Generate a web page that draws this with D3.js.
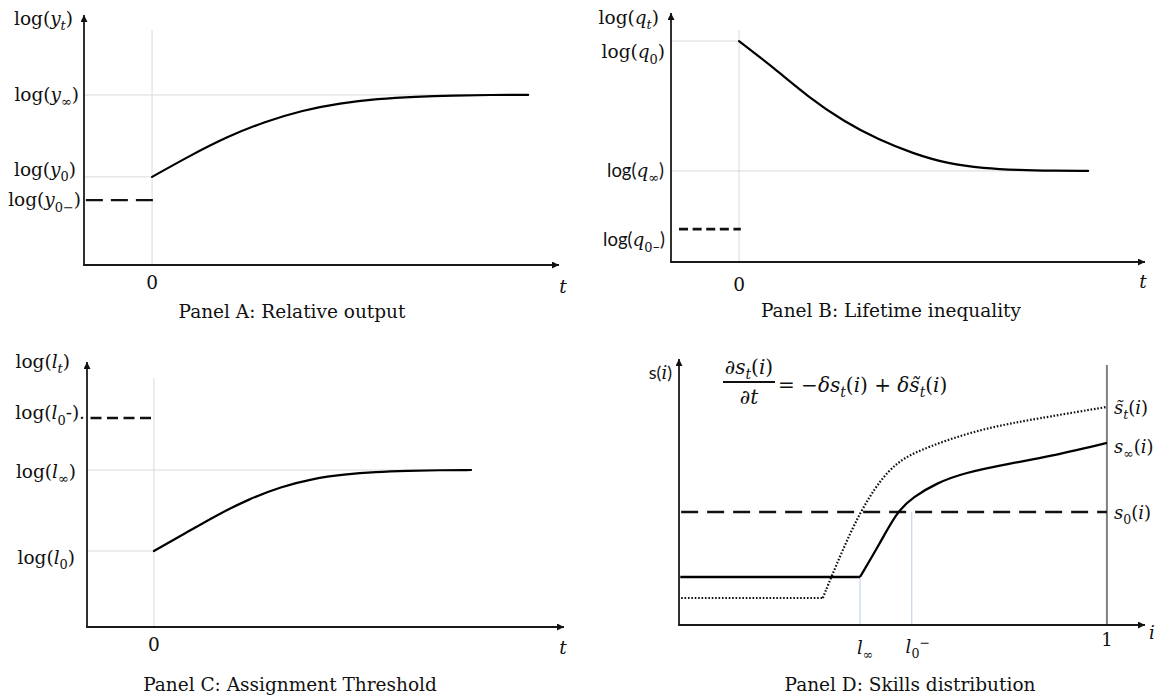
<!DOCTYPE html>
<html>
<head>
<meta charset="utf-8">
<script src="https://cdn.jsdelivr.net/npm/d3@7"></script>
<style>
  html, body { margin: 0; padding: 0; background: #fff; }
  svg { display: block; }
</style>
</head>
<body>
<script>
// ---------- data ----------
// Panel A: relative output after the shock at t = 0
const tA = [0, 1, 2, 3, 4, 5, 6, 7, 8, 9, 10];
const logY = [0.518, 0.642, 0.755, 0.843, 0.91, 0.952, 0.977, 0.99, 0.997, 1.0, 1.0];
const yInf = 1.0, y0 = 0.518, y0Minus = 0.382;

// Panel B: lifetime inequality
const tB = [0, 1, 2, 3, 4, 5, 6, 7, 8, 9, 10];
const logQ = [1.0, 0.878, 0.745, 0.636, 0.553, 0.49, 0.444, 0.424, 0.416, 0.413, 0.412];
const q0 = 1.0, qInf = 0.412, q0Minus = 0.149;

// Panel C: assignment threshold
const tC = [0, 1, 2, 3, 4, 5, 6, 7, 8, 9, 10];
const logL = [0.484, 0.598, 0.715, 0.815, 0.893, 0.945, 0.972, 0.988, 0.995, 0.999, 1.0];
const l0Minus = 1.331, lInf = 1.0, l0 = 0.484;

// Panel D: skills distribution over i in [0, 1]
const s0Level = 1.0;
const sInfFlat = 0.425, sInfKink = 0.423;
const iSInf = [0.423, 0.470, 0.509, 0.547, 0.603, 0.664, 0.780, 0.860, 1.0];
const sInf  = [0.425, 0.726, 1.0, 1.133, 1.257, 1.345, 1.434, 1.487, 1.611];
const sTilFlat = 0.239, sTilKink = 0.336;
const iSTil = [0.336, 0.379, 0.423, 0.470, 0.509, 0.547, 0.626, 0.703, 0.780, 0.860, 1.0];
const sTil  = [0.239, 0.637, 1.0, 1.283, 1.434, 1.522, 1.637, 1.726, 1.788, 1.841, 1.93];
const iLInf = 0.423, iL0Minus = 0.544;

const titles = ["Panel A: Relative output", "Panel B: Lifetime inequality",
                "Panel C: Assignment Threshold", "Panel D: Skills distribution"];

// ---------- setup ----------
const W = 1158, H = 696;
const SERIF = "'DejaVu Serif', 'Liberation Serif', serif";
const SANS = "Lato, 'Open Sans', 'DejaVu Sans', sans-serif";
const INK = "#111";
const GRID = "#dadada";

const svg = d3.select("body").append("svg")
  .attr("width", W).attr("height", H)
  .style("background", "#fff");

svg.append("defs").append("marker")
  .attr("id", "arrow")
  .attr("viewBox", "0 0 10 10")
  .attr("refX", 10).attr("refY", 5)
  .attr("markerWidth", 8).attr("markerHeight", 7)
  .attr("markerUnits", "userSpaceOnUse")
  .attr("orient", "auto")
  .append("path").attr("d", "M0,0 L10,5 L0,10 Z").attr("fill", "#111");

// rich label: parts = [[text, kind]], kind letters: i italic, b subscript, p superscript, s sans
function label(g, x, y, parts, o = {}) {
  const fs = o.size || 18.5;
  const t = g.append("text")
    .attr("x", x).attr("y", y + fs * 0.34)
    .attr("text-anchor", o.anchor || "end")
    .attr("font-family", o.font || SERIF)
    .attr("font-size", fs)
    .attr("fill", INK);
  let shift = 0;
  for (const [s, k = ""] of parts) {
    const sub = k.includes("b"), sup = k.includes("p");
    const target = sub ? fs * 0.28 : sup ? -fs * 0.36 : 0;
    const sp = t.append("tspan").text(s).attr("dy", target - shift);
    shift = target;
    if (sub || sup) sp.attr("font-size", fs * 0.7);
    if (k.includes("i")) sp.attr("font-style", "italic");
    if (k.includes("s")) sp.attr("font-family", SANS);
  }
  return t;
}

function axes(g, x, y) {
  const [x0, x1] = x.range(), [yb, yt] = y.range();
  g.append("line").attr("x1", x0).attr("y1", yb).attr("x2", x0).attr("y2", yt)
    .attr("stroke", "#1a1a1a").attr("stroke-width", 1.8).attr("marker-end", "url(#arrow)");
  g.append("line").attr("x1", x0 - 0.9).attr("y1", yb).attr("x2", x1).attr("y2", yb)
    .attr("stroke", "#1a1a1a").attr("stroke-width", 1.8).attr("marker-end", "url(#arrow)");
}

function hline(g, x, y, a, b, v, opt) {
  return g.append("line")
    .attr("x1", x(a)).attr("x2", x(b)).attr("y1", y(v)).attr("y2", y(v))
    .attr("stroke", opt.stroke).attr("stroke-width", opt.width)
    .attr("stroke-dasharray", opt.dash || null);
}
function vline(g, x, y, v, a, b, opt) {
  return g.append("line")
    .attr("x1", x(v)).attr("x2", x(v)).attr("y1", y(a)).attr("y2", y(b))
    .attr("stroke", opt.stroke).attr("stroke-width", opt.width)
    .attr("stroke-dasharray", opt.dash || null);
}
function title(text, cx, cy) {
  svg.append("text").attr("x", cx).attr("y", cy + 18.5 * 0.34)
    .attr("text-anchor", "middle").attr("font-family", SERIF)
    .attr("font-size", 18.5).attr("fill", INK).text(text);
}
const gridOpt = { stroke: GRID, width: 1 };
// smooth adjustment path of a log variable over time
const pathCurve = (g, pts, x, y) => g.append("path")
  .attr("d", d3.line().x(d => x(d[0])).y(d => y(d[1])).curve(d3.curveBasis)(pts))
  .attr("fill", "none").attr("stroke", "#000").attr("stroke-width", 2.2)
  .attr("stroke-linecap", "round");

// ---------- Panel A ----------
{
  const g = svg.append("g");
  const x = d3.scaleLinear().domain([-1.81, 10.82]).range([84, 559]);
  const y = d3.scaleLinear().domain([0, 1.47]).range([265, 15]);
  vline(g, x, y, 0, 0, 1.382, gridOpt);
  hline(g, x, y, -1.81, 10, yInf, gridOpt);
  hline(g, x, y, -1.81, 0, y0, gridOpt);
  axes(g, x, y);
  hline(g, x, y, -1.76, 0.05, y0Minus, { stroke: "#111", width: 2.3, dash: "17,8" });
  pathCurve(g, tA.map((t, i) => [t, logY[i]]), x, y);

  label(g, 73, 19, [["log("], ["y", "i"], ["t", "ib"], [")"]]);
  label(g, 79, y(yInf), [["log("], ["y", "i"], ["∞", "b"], [")"]]);
  label(g, 76, y(y0) - 7, [["log("], ["y", "i"], ["0", "b"], [")"]]);
  label(g, 81, y(y0Minus), [["log("], ["y", "i"], ["0−", "b"], [")"]]);
  label(g, x(0), 283, [["0"]], { anchor: "middle" });
  label(g, 563, 287, [["t", "i"]], { anchor: "middle" });
  title(titles[0], 292, 312);
}

// ---------- Panel B ----------
{
  const g = svg.append("g");
  const x = d3.scaleLinear().domain([-1.95, 11.63]).range([671, 1145]);
  const y = d3.scaleLinear().domain([0, 1.127]).range([262, 13]);
  vline(g, x, y, 0, 0, 1.05, gridOpt);
  hline(g, x, y, -1.95, 0, q0, gridOpt);
  hline(g, x, y, -1.95, 10, qInf, gridOpt);
  axes(g, x, y);
  hline(g, x, y, -1.72, 0.05, q0Minus, { stroke: "#111", width: 2.6, dash: "9,4.6" });
  pathCurve(g, tB.map((t, i) => [t, logQ[i]]), x, y);

  label(g, 659, 18, [["log("], ["q", "i"], ["t", "ib"], [")"]]);
  label(g, 665, y(q0) + 11, [["log("], ["q", "i"], ["0", "b"], [")"]]);
  label(g, 664, y(qInf), [["log(", "s"], ["q", "i"], ["∞", "b"], [")", "s"]]);
  label(g, 665, y(q0Minus) + 11, [["log(", "s"], ["q", "i"], ["0", "b"], ["−", "bs"], [")", "s"]]);
  label(g, x(0), 285, [["0"]], { anchor: "middle" });
  label(g, 1143, 282, [["t", "i"]], { anchor: "middle" });
  title(titles[1], 891, 311);
}

// ---------- Panel C ----------
{
  const g = svg.append("g");
  const x = d3.scaleLinear().domain([-2.11, 12.93]).range([87, 564]);
  const y = d3.scaleLinear().domain([0, 1.688]).range([627, 362]);
  vline(g, x, y, 0, 0, 1.586, gridOpt);
  hline(g, x, y, -2.11, 10, lInf, gridOpt);
  hline(g, x, y, -2.11, 0, l0, gridOpt);
  axes(g, x, y);
  hline(g, x, y, -2.0, -0.05, l0Minus, { stroke: "#111", width: 2.4, dash: "11,5.5" });
  pathCurve(g, tC.map((t, i) => [t, logL[i]]), x, y);

  label(g, 70, 362, [["log("], ["l", "i"], ["t", "ib"], [")"]]);
  label(g, 85, y(l0Minus) - 5, [["log("], ["l", "i"], ["0", "b"], ["-)."]]);
  label(g, 76, y(lInf) + 2, [["log("], ["l", "i"], ["∞", "b"], [")"]]);
  label(g, 75, y(l0) + 7, [["log("], ["l", "i"], ["0", "b"], [")"]]);
  label(g, x(0), 645, [["0"]], { anchor: "middle" });
  label(g, 563, 648, [["t", "i"]], { anchor: "middle" });
  title(titles[2], 290, 685);
}

// ---------- Panel D ----------
{
  const g = svg.append("g");
  const x = d3.scaleLinear().domain([0, 1.089]).range([679, 1145]);
  const y = d3.scaleLinear().domain([0, 2.354]).range([625, 359]);

  vline(g, x, y, iLInf, 0, sInfFlat, { stroke: "#b9cde3", width: 1 });
  vline(g, x, y, iL0Minus, 0, s0Level, { stroke: "#b9cde3", width: 1 });
  vline(g, x, y, 1, 0, 2.30, { stroke: "#808080", width: 2 });
  axes(g, x, y);

  // initial skills s0(i): flat, long dashes
  hline(g, x, y, 0.005, 1.0, s0Level, { stroke: "#111", width: 2.4, dash: "17,9" });

  const flat = d3.line().x(d => x(d[0])).y(d => y(d[1]));
  const rise = d3.line().x(d => x(d[0])).y(d => y(d[1])).curve(d3.curveBasis);

  // target skills s~t(i): dotted
  g.append("path").attr("d", flat([[0.005, sTilFlat], [sTilKink, sTilFlat]]))
    .attr("fill", "none").attr("stroke", "#111").attr("stroke-width", 2.2).attr("stroke-dasharray", "1.6,1.8");
  g.append("path").attr("d", rise(iSTil.map((v, k) => [v, sTil[k]])))
    .attr("fill", "none").attr("stroke", "#111").attr("stroke-width", 2.2)
    .attr("stroke-dasharray", "1.6,1.8");

  // steady-state skills s_inf(i): solid
  g.append("path").attr("d", flat([[0.003, sInfFlat], [sInfKink, sInfFlat]]))
    .attr("fill", "none").attr("stroke", "#000").attr("stroke-width", 2.3);
  g.append("path").attr("d", rise(iSInf.map((v, k) => [v, sInf[k]])))
    .attr("fill", "none").attr("stroke", "#000").attr("stroke-width", 2.3).attr("stroke-linejoin", "round");

  // labels
  label(g, 672, 373, [["s(", "s"], ["i", "i"], [")", "s"]], { size: 18 });
  const rx = x(1) + 7;
  label(g, rx, y(sTil[sTil.length - 1]) + 1, [["s̃", "i"], ["t", "ib"], ["("], ["i", "i"], [")"]], { anchor: "start", size: 18 });
  label(g, rx, y(sInf[sInf.length - 1]) + 4, [["s", "i"], ["∞", "b"], ["("], ["i", "i"], [")"]], { anchor: "start", size: 18 });
  label(g, rx, y(s0Level) + 1, [["s", "i"], ["0", "b"], ["("], ["i", "i"], [")"]], { anchor: "start", size: 18 });
  label(g, x(1), 640, [["1"]], { anchor: "middle", size: 18 });
  label(g, 1152, 633, [["i", "i"]], { anchor: "middle", size: 18 });
  label(g, x(iLInf) + 5, 648, [["l", "i"], ["∞", "b"]], { anchor: "middle", size: 18 });
  label(g, x(iL0Minus) + 6, 647, [["l", "i"], ["0", "b"], ["−", "p"]], { anchor: "middle", size: 18 });

  // law of motion
  const fs = 20;
  label(g, 749, 367, [["∂", "i"], ["s", "i"], ["t", "ib"], ["("], ["i", "i"], [")"]], { anchor: "middle", size: fs });
  label(g, 749, 397, [["∂", "i"], ["t", "i"]], { anchor: "middle", size: fs });
  g.append("line").attr("x1", 723).attr("x2", 775).attr("y1", 382).attr("y2", 382)
    .attr("stroke", "#111").attr("stroke-width", 1.8);
  label(g, 778, 385, [["= −"], ["δs", "i"], ["t", "ib"], ["("], ["i", "i"], [") + "], ["δs̃", "i"], ["t", "ib"], ["("], ["i", "i"], [")"]], { anchor: "start", size: fs });

  title(titles[3], 910, 685);
}
</script>
</body>
</html>
